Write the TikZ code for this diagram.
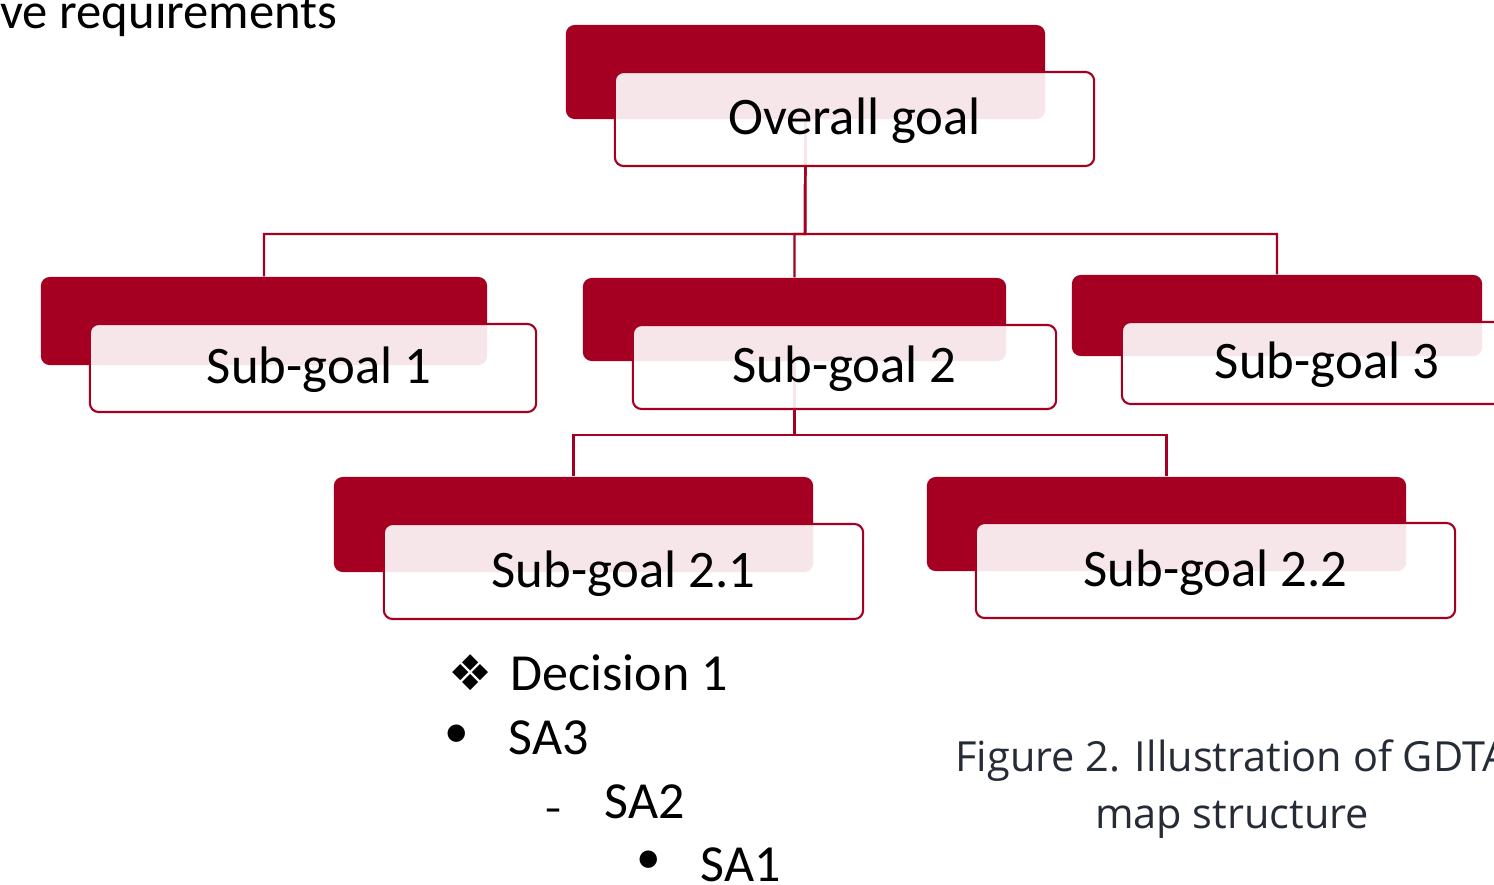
\documentclass[tikz,border=0pt]{standalone}
\usepackage{fontspec}
\setmainfont{Carlito}
\newfontfamily\capfont{Open Sans}
\newfontfamily\symfont{DejaVu Sans}
\usepackage{tikz}
\definecolor{goalred}{RGB}{165,0,33}
\definecolor{capgray}{RGB}{38,44,54}

\begin{document}
\begin{tikzpicture}[x=0.01cm, y=-0.01cm,
    backbox/.style={rectangle, rounded corners=2.5pt, fill=goalred, draw=none, inner sep=0pt},
    frontbox/.style={rectangle, rounded corners=2.5pt, draw=goalred, line width=0.6pt,
      fill=white, fill opacity=0.9, text opacity=1, inner sep=0pt,
      text height=12pt, text depth=3pt,
      font=\fontsize{15}{18}\selectfont},
    link/.style={draw=goalred, line width=0.7pt},
    listtext/.style={anchor=base west, inner sep=0pt, font=\fontsize{14.8}{18}\selectfont}]
    \useasboundingbox (0,0) rectangle (1494,884);

    % cut-off heading at the top left
    \node[anchor=base east, inner sep=0pt, font=\fontsize{14.4}{17}\selectfont] (head) at (338,28) {ve requirements};

    % dark boxes behind
    \node[backbox, minimum width=4.79cm, minimum height=0.94cm] (og-b) at (805.5,72) {};
    \node[backbox, minimum width=4.46cm, minimum height=0.88cm] (sg1-b) at (264,321) {};
    \node[backbox, minimum width=4.23cm, minimum height=0.83cm] (sg2-b) at (794.5,319.5) {};
    \node[backbox, minimum width=4.10cm, minimum height=0.81cm] (sg3-b) at (1277,315.5) {};
    \node[backbox, minimum width=4.79cm, minimum height=0.95cm] (sg21-b) at (573.5,524.5) {};
    \node[backbox, minimum width=4.79cm, minimum height=0.94cm] (sg22-b) at (1166.5,524) {};

    \coordinate (j-og) at (805,234);
    \coordinate (j-sg2) at (794.5,435);

    % connectors
    \draw[link] (og-b.south) -- (j-og) -| (sg1-b.north);
    \draw[link] (og-b.south) -- (j-og) -| (sg2-b.north);
    \draw[link] (og-b.south) -- (j-og) -| (sg3-b.north);
    \draw[link] (sg2-b.south) -- (j-sg2) -| (sg21-b.north);
    \draw[link] (sg2-b.south) -- (j-sg2) -| (sg22-b.north);

    % light boxes with the labels
    \node[frontbox, minimum width=4.79cm, minimum height=0.94cm] (og) at (854.5,119) {Overall goal};
    \node[frontbox, minimum width=4.46cm, minimum height=0.88cm] (sg1) at (313,368) {\hspace*{0.12cm}Sub-goal 1};
    \node[frontbox, minimum width=4.23cm, minimum height=0.84cm] (sg2) at (844.5,367) {Sub-goal 2};
    \node[frontbox, minimum width=4.10cm, minimum height=0.82cm] (sg3) at (1327,363) {Sub-goal 3};
    \node[frontbox, minimum width=4.79cm, minimum height=0.95cm] (sg21) at (623.5,571.5) {Sub-goal 2.1};
    \node[frontbox, minimum width=4.79cm, minimum height=0.95cm] (sg22) at (1215.5,570.5) {Sub-goal 2.2};

    % decision list
    \node[inner sep=0pt, font=\symfont\fontsize{14}{16}\selectfont] (d-mark) at (471,673) {❖};
    \node[listtext] (dec) at (510,690) {Decision 1};
    \node[inner sep=0pt, font=\fontsize{14}{18}\selectfont] (sa3-mark) at (457,736) {•};
    \node[listtext] (sa3) at (508,754) {SA3};
    \node[anchor=base, inner sep=0pt, font=\bfseries\fontsize{10}{12}\selectfont] (sa2-mark) at (553,820) {–};
    \node[listtext] (sa2) at (604,818) {SA2};
    \node[inner sep=0pt, font=\fontsize{14}{18}\selectfont] (sa1-mark) at (649,862) {•};
    \node[listtext] (sa1) at (700,881) {SA1};

    % caption
    \node[align=center, inner sep=0pt, text=capgray,
      font=\capfont\fontsize{11.8}{16.2}\selectfont] (cap) at (1232,789)
      {Figure 2. Illustration of GDTA\\map structure};
\end{tikzpicture}
\end{document}
